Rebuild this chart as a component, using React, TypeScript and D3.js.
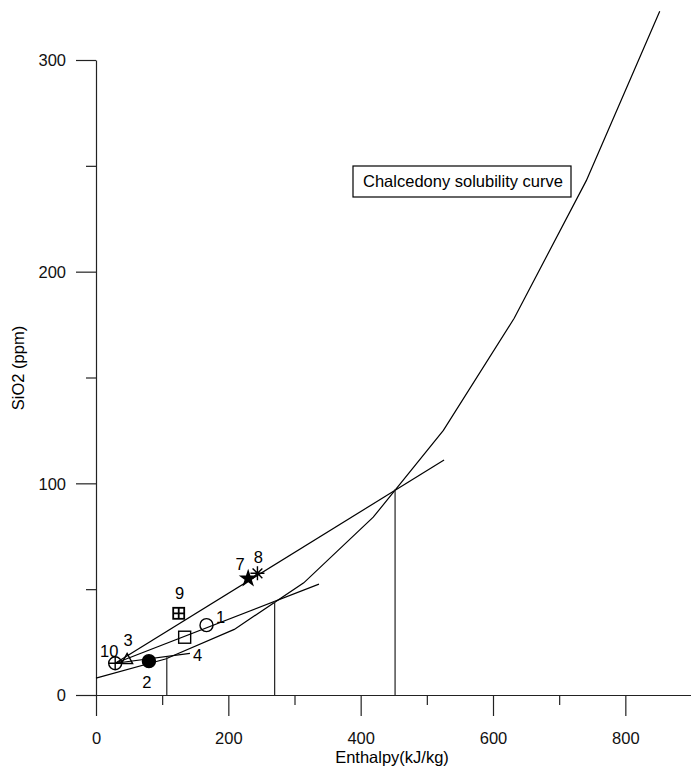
import * as d3 from 'd3';
import { useEffect, useRef } from 'react';

// chalcedony solubility curve (enthalpy kJ/kg, SiO2 ppm)
const curveH = [0, 105, 209, 314, 419, 525, 632, 741, 852];
const curveSiO2 = [8, 17, 31, 53, 84, 125, 178, 243, 323];

// samples
const sampleIds = ['1', '2', '3', '4', '7', '8', '9', '10'];
const sampleH = [167, 80, 47, 134, 230, 244, 125, 29];
const sampleSiO2 = [33, 16, 16.8, 27.3, 55, 57.5, 38.6, 15];
const sampleSymbols = ['circle', 'dot', 'triangle', 'square', 'star', 'asterisk', 'boxplus', 'circleplus'];

// mixing lines
const mixStartH = [29, 29, 29];
const mixStartSiO2 = [15, 15, 15];
const mixEndH = [142, 337, 526];
const mixEndSiO2 = [19.7, 52.4, 111];

// where the mixing lines meet the curve
const crossH = [107, 270, 452];
const crossSiO2 = [17.8, 44.4, 97.2];

const xTicks = [0, 200, 400, 600, 800];
const xMinor = [100, 300, 500, 700];
const yTicks = [0, 100, 200, 300];
const yMinor = [50, 150, 250];

const FONT = '"Liberation Sans", Arial, sans-serif';
const FS = 16.5;

export default function App() {
    const svgRef = useRef<SVGSVGElement>(null);

    useEffect(() => {
        drawChart(svgRef.current!);
    }, []);

    return (
        <svg ref={svgRef} width={691} height={767}
            style={{ position: 'absolute', left: 0, top: 0, background: '#fff' }} />
    );
}

function drawChart(el: SVGSVGElement) {
    const svg = d3.select(el);
    svg.selectAll('*').remove();

    const x = d3.scaleLinear().domain([0, 900]).range([96, 691.5]);
    const y = d3.scaleLinear().domain([0, 300]).range([695, 60]);

    // axes
    const yAxis = svg.append('g').attr('transform', 'translate(96,0)')
        .call(d3.axisLeft(y).tickValues(yTicks).tickSize(20).tickPadding(10).tickSizeOuter(0));
    svg.append('g').attr('transform', 'translate(96,0)')
        .call(d3.axisLeft(y).tickValues(yMinor).tickSize(10).tickFormat(() => '').tickSizeOuter(0))
        .select('.domain').remove();

    const xAxis = svg.append('g').attr('transform', 'translate(0,695)')
        .call(d3.axisBottom(x).tickValues(xTicks).tickSize(21).tickPadding(16).tickSizeOuter(0));
    svg.append('g').attr('transform', 'translate(0,695)')
        .call(d3.axisBottom(x).tickValues(xMinor).tickSize(10).tickFormat(() => '').tickSizeOuter(0))
        .select('.domain').remove();

    svg.selectAll('.tick line, .domain').attr('stroke', '#222').attr('stroke-width', 1.2);
    svg.selectAll('.tick text').attr('font-family', FONT).attr('font-size', FS).attr('fill', '#111');
    yAxis.selectAll('.tick text').attr('dy', '0.36em');
    xAxis.selectAll('.tick text').attr('dy', '0.72em');

    svg.append('text')
        .attr('x', 392).attr('y', 763)
        .attr('text-anchor', 'middle')
        .attr('font-family', FONT).attr('font-size', FS)
        .text('Enthalpy(kJ/kg)');

    svg.append('text')
        .attr('transform', 'translate(24,368) rotate(-90)')
        .attr('text-anchor', 'middle')
        .attr('font-family', FONT).attr('font-size', FS)
        .text('SiO2 (ppm)');

    const line = d3.line<number>().x(i => x(curveH[i])).y(i => y(curveSiO2[i]));
    svg.append('path')
        .attr('d', line(d3.range(curveH.length)))
        .attr('fill', 'none').attr('stroke', '#000').attr('stroke-width', 1.2);

    mixStartH.forEach((h, i) => {
        svg.append('line')
            .attr('x1', x(h)).attr('y1', y(mixStartSiO2[i]))
            .attr('x2', x(mixEndH[i])).attr('y2', y(mixEndSiO2[i]))
            .attr('stroke', '#000').attr('stroke-width', 1.2);
    });

    crossH.forEach((h, i) => {
        svg.append('line')
            .attr('x1', x(h)).attr('y1', y(crossSiO2[i]))
            .attr('x2', x(h)).attr('y2', y(0))
            .attr('stroke', '#222').attr('stroke-width', 1.2);
    });

    // legend box
    svg.append('rect')
        .attr('x', 353).attr('y', 166).attr('width', 218).attr('height', 31)
        .attr('fill', '#fff').attr('stroke', '#000').attr('stroke-width', 1.2);
    svg.append('text')
        .attr('x', 463).attr('y', 187)
        .attr('text-anchor', 'middle')
        .attr('font-family', FONT).attr('font-size', FS)
        .text('Chalcedony solubility curve');

    // label offsets in px from each marker
    const labelDx = [14, -2, 1, 13, -8, 1, 1, -6];
    const labelDy = [-8, 21, -19, 18, -15, -16, -20, -12];

    sampleIds.forEach((id, i) => {
        const cx = x(sampleH[i]);
        const cy = y(sampleSiO2[i]);
        const g = svg.append('g').attr('transform', `translate(${cx},${cy})`)
            .attr('stroke', '#000').attr('stroke-width', 1.4).attr('fill', 'none');
        const sym = sampleSymbols[i];
        if (sym === 'circle') {
            g.append('circle').attr('r', 6.5);
        } else if (sym === 'dot') {
            g.append('circle').attr('r', 6.5).attr('fill', '#000');
        } else if (sym === 'triangle') {
            g.append('path').attr('d', 'M0,-6L5.5,4L-5.5,4Z');
        } else if (sym === 'square') {
            g.append('rect').attr('x', -6).attr('y', -6).attr('width', 12).attr('height', 12);
        } else if (sym === 'star') {
            g.append('path').attr('d', d3.symbol(d3.symbolStar, 110)()!).attr('fill', '#000').attr('stroke', 'none');
        } else if (sym === 'asterisk') {
            const r = 7;
            g.append('path').attr('d', `M0,${-r}V${r}M${-r},0H${r}M${-r * 0.7},${-r * 0.7}L${r * 0.7},${r * 0.7}M${r * 0.7},${-r * 0.7}L${-r * 0.7},${r * 0.7}`);
        } else if (sym === 'boxplus') {
            g.append('rect').attr('x', -5.5).attr('y', -5.5).attr('width', 11).attr('height', 11).attr('stroke-width', 1.8);
            g.append('path').attr('d', 'M0,-5.5V5.5M-5.5,0H5.5').attr('stroke-width', 1.8);
        } else if (sym === 'circleplus') {
            g.append('circle').attr('r', 6.5);
            g.append('path').attr('d', 'M0,-6.5V6.5M-6.5,0H6.5');
        }

        svg.append('text')
            .attr('x', cx + labelDx[i]).attr('y', cy + labelDy[i])
            .attr('dy', '0.36em')
            .attr('text-anchor', 'middle')
            .attr('font-family', FONT).attr('font-size', FS)
            .text(id);
    });
}
